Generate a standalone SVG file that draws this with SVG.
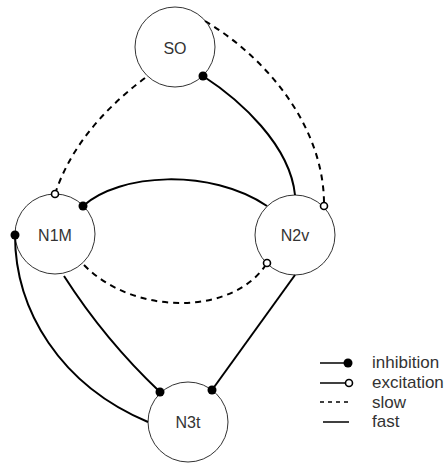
<svg xmlns="http://www.w3.org/2000/svg" width="445" height="464" viewBox="0 0 445 464">
  <style>
    .node circle { fill: #ffffff; stroke: #333333; stroke-width: 1; }
    .node text, .legend text { font-family: "Liberation Sans", Arial, sans-serif; fill: #333333; }
    .node text { font-size: 16px; text-anchor: middle; }
    .legend text { font-size: 17px; }
    .edge { fill: none; stroke: #000000; stroke-width: 2; }
    .slow { stroke-dasharray: 6 5; }
    .lg { fill: none; stroke: #000000; stroke-width: 1.5; }
  </style>
  <defs>
    <marker id="inh" viewBox="-6 -6 12 12" refX="0" refY="0" markerWidth="12" markerHeight="12" markerUnits="userSpaceOnUse" overflow="visible">
      <circle cx="0" cy="0" r="4.5" fill="#000000" stroke="none"/>
    </marker>
    <marker id="exc" viewBox="-6 -6 12 12" refX="0" refY="0" markerWidth="12" markerHeight="12" markerUnits="userSpaceOnUse" overflow="visible">
      <circle cx="0" cy="0" r="3.5" fill="#ffffff" stroke="#000000" stroke-width="1.6" stroke-dasharray="none"/>
    </marker>
  </defs>

  <g id="node-SO" class="node">
    <circle cx="175" cy="47" r="40"/>
    <text x="175" y="54">SO</text>
  </g>
  <g id="node-N1M" class="node">
    <circle cx="55" cy="234" r="40"/>
    <text x="55" y="241">N1M</text>
  </g>
  <g id="node-N2v" class="node">
    <circle cx="295" cy="235" r="40"/>
    <text x="295" y="241">N2v</text>
  </g>
  <g id="node-N3t" class="node">
    <circle cx="188" cy="422" r="40"/>
    <text x="188" y="428">N3t</text>
  </g>

  <g id="connectors">
    <path id="e-SO-N1M" class="edge slow" d="M145,78 Q76,130 55,194" marker-end="url(#exc)"/>
    <path id="e-SO-N2v" class="edge slow" d="M205,21 C270,60 325,130 324,206" marker-end="url(#exc)"/>
    <path id="e-N2v-SO" class="edge" d="M295,195 C290,145 240,100 203,76" marker-end="url(#inh)"/>
    <path id="e-N2v-N1M" class="edge" d="M267,206 C210,168 120,173 83,206" marker-end="url(#inh)"/>
    <path id="e-N1M-N2v" class="edge slow" d="M84,265 C135,317 235,315 267,263" marker-end="url(#exc)"/>
    <path id="e-N3t-N1M" class="edge" d="M148,422 C60,385 15,310 15,235" marker-end="url(#inh)"/>
    <path id="e-N1M-N3t" class="edge" d="M64,276 Q105,340 160,392" marker-end="url(#inh)"/>
    <path id="e-N2v-N3t" class="edge" d="M295,275 L212,390" marker-end="url(#inh)"/>
  </g>

  <g id="legend" class="legend">
    <line class="lg" x1="320" y1="363" x2="348" y2="363" marker-end="url(#inh)"/>
    <text x="372" y="368">inhibition</text>
    <line class="lg" x1="320" y1="383" x2="349" y2="383" marker-end="url(#exc)"/>
    <text x="372" y="388">excitation</text>
    <line class="lg" x1="320" y1="402" x2="348" y2="402" stroke-dasharray="4 4" stroke-width="1"/>
    <text x="372" y="408">slow</text>
    <line class="lg" x1="323" y1="422" x2="349" y2="422"/>
    <text x="372" y="427">fast</text>
  </g>
</svg>
